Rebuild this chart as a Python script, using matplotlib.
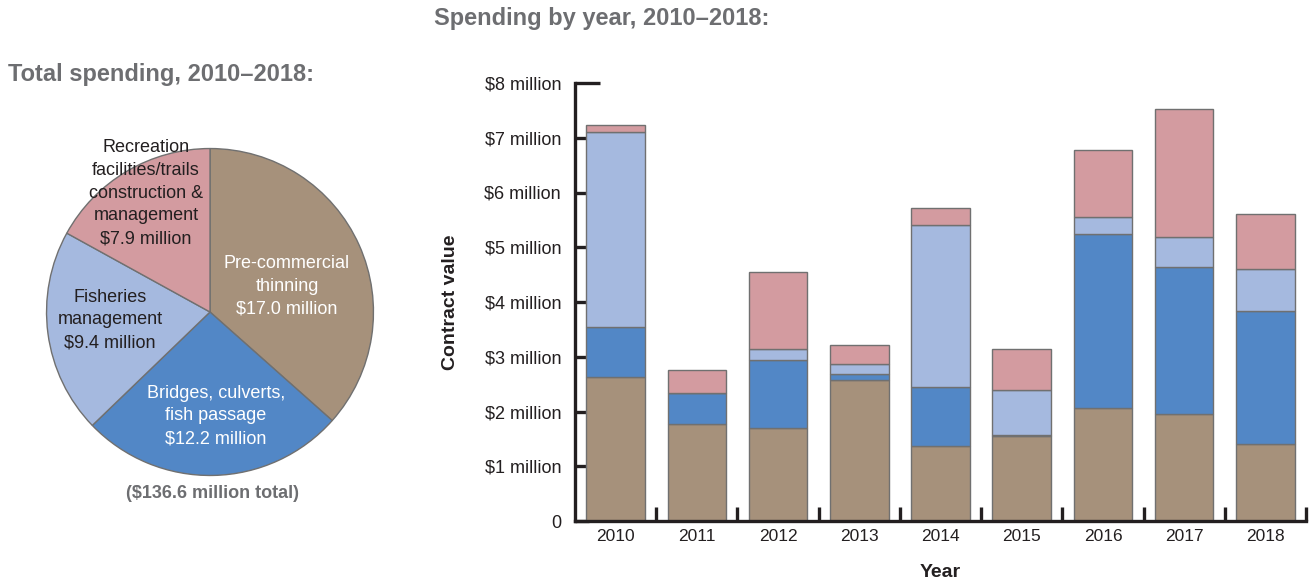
import matplotlib
matplotlib.use("Agg")
import matplotlib.pyplot as plt
import numpy as np

plt.rcParams['font.family'] = ['Liberation Sans', 'DejaVu Sans']

# ---- data ----
pie_labels = ["Pre-commercial\nthinning\n$17.0 million",
              "Bridges, culverts,\nfish passage\n$12.2 million",
              "Fisheries\nmanagement\n$9.4 million",
              "Recreation\nfacilities/trails\nconstruction &\nmanagement\n$7.9 million"]
pie_values = [17.0, 12.2, 9.4, 7.9]

years = ["2010", "2011", "2012", "2013", "2014", "2015", "2016", "2017", "2018"]
thinning = [2.63, 1.78, 1.70, 2.57, 1.37, 1.55, 2.06, 1.96, 1.41]
bridges = [0.92, 0.55, 1.24, 0.12, 1.08, 0.02, 3.18, 2.68, 2.42]
fisheries = [3.55, 0.00, 0.20, 0.17, 2.95, 0.83, 0.31, 0.55, 0.78]
recreation = [0.14, 0.42, 1.40, 0.36, 0.32, 0.75, 1.23, 2.33, 0.99]
ytick_vals = [0, 1, 2, 3, 4, 5, 6, 7, 8]
ytick_labels = ["0", "$1 million", "$2 million", "$3 million", "$4 million",
                "$5 million", "$6 million", "$7 million", "$8 million"]

colors = ["#a6917b", "#5287c6", "#a5b9df", "#d39ba0"]
edge = "#707070"
title_color = "#6d6e71"
text_color = "#231f20"

W, H = 1315, 582
fig = plt.figure(figsize=(W / 100, H / 100), dpi=100)

def fx(px):
    return px / W

def fy(py):
    return 1 - py / H

# ---- titles ----
fig.text(fx(8), fy(75), "Total spending, 2010\u20132018:", fontsize=17, fontweight='bold',
         color=title_color, ha='left', va='center')
fig.text(fx(434), fy(19), "Spending by year, 2010\u20132018:", fontsize=17, fontweight='bold',
         color=title_color, ha='left', va='center')

# ---- pie ----
cx, cy, half = 210, 312, 170
axp = fig.add_axes([fx(cx - half), fy(cy + half), 2 * half / W, 2 * half / H])
wedges, _ = axp.pie(pie_values, colors=colors, startangle=90, counterclock=False,
                    wedgeprops=dict(edgecolor=edge, linewidth=1.0))
axp.set_xlim(-1.04, 1.04)
axp.set_ylim(-1.04, 1.04)
axp.set_aspect('equal')
axp.axis('off')

r = 163.5
label_pos = [(287, 286, 'white'), (216, 416, 'white'), (110, 320, text_color), (146, 193, text_color)]
for lab, (px, py, c) in zip(pie_labels, label_pos):
    axp.text((px - cx) / r, (cy - py) / r, lab, ha='center', va='center', fontsize=13,
             color=c, linespacing=1.45)

fig.text(fx(213), fy(493), "($136.6 million total)", fontsize=13, fontweight='bold',
         color=title_color, ha='center', va='center')

# ---- bar chart ----
left, right, top, bottom = 575, 1306, 83, 521
axb = fig.add_axes([fx(left), fy(bottom), (right - left) / W, (bottom - top) / H])
x = np.arange(len(years))
bw = 0.72
base = np.zeros(len(years))
for vals, c in zip([thinning, bridges, fisheries, recreation], colors):
    v = np.array(vals)
    axb.bar(x, v, bw, bottom=base, color=c, edgecolor=edge, linewidth=1.0, zorder=2)
    base = base + v

axb.set_xlim(-0.5, len(years) - 0.5)
axb.set_ylim(0, 8)
axb.set_yticks(ytick_vals)
axb.set_yticklabels(ytick_labels, fontsize=13, color=text_color)
axb.set_xticks(x)
axb.set_xticklabels(years, fontsize=12.5, color=text_color)
axb.tick_params(axis='x', length=0, pad=6)
axb.set_xticks(np.arange(len(years)) + 0.5, minor=True)
axb.tick_params(axis='x', which='minor', direction='in', length=10, width=2.4, color='#231f20')
axb.tick_params(axis='y', direction='in', length=10, width=2.4, color='#231f20', pad=10)
axb.yaxis.get_major_ticks()[-1].tick1line.set_markersize(18)

for s in ['top', 'right']:
    axb.spines[s].set_visible(False)
for s in ['left', 'bottom']:
    axb.spines[s].set_linewidth(2.4)
    axb.spines[s].set_color('#231f20')
axb.spines['bottom'].set_zorder(3)

axb.set_ylabel("Contract value", fontsize=14, fontweight='bold', color=text_color, labelpad=18)
axb.set_xlabel("Year", fontsize=14, fontweight='bold', color=text_color, labelpad=14)

fig.savefig("out.png", dpi=100)
